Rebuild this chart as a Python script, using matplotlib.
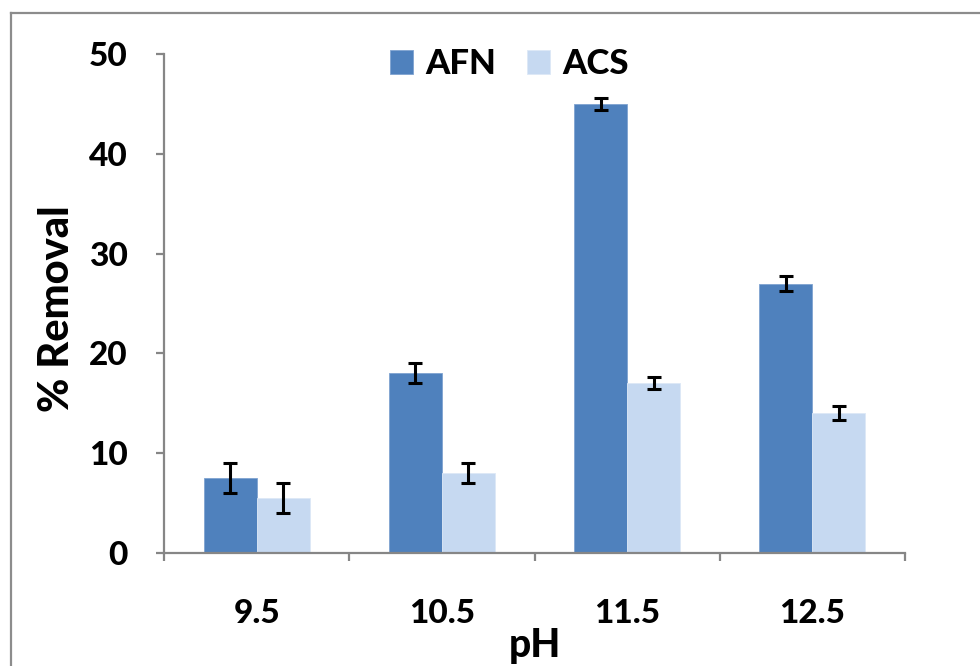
import numpy as np
import matplotlib
matplotlib.use("Agg")
import matplotlib.pyplot as plt
from matplotlib.lines import Line2D

# ================== DATA ==================
ph_labels = ["9.5", "10.5", "11.5", "12.5"]
afn = [7.5, 18, 45, 27]
afn_err = [1.5, 1.0, 0.6, 0.75]
acs = [5.5, 8, 17, 14]
acs_err = [1.5, 1.0, 0.6, 0.7]

AFN_COLOR = "#4F81BD"
ACS_COLOR = "#C6D9F1"
AXIS_GRAY = "#868686"
WEIGHT = "black"

plt.rcParams["font.family"] = ["Lato", "DejaVu Sans"]
plt.rcParams["font.weight"] = WEIGHT

fig = plt.figure(figsize=(9.8, 6.66), dpi=100)
ax = fig.add_axes([164 / 980, 113 / 666, 741 / 980, 499 / 666])

x = np.arange(len(ph_labels))
w = 0.286
ekw = dict(ecolor="black", elinewidth=2.2, capsize=5, capthick=2.2)
ax.bar(x - w / 2, afn, w, color=AFN_COLOR, edgecolor="#7fa3d0", linewidth=0.6,
       yerr=afn_err, error_kw=ekw, label="AFN")
ax.bar(x + w / 2, acs, w, color=ACS_COLOR, edgecolor="#dde8f6", linewidth=0.6,
       yerr=acs_err, error_kw=ekw, label="ACS")

ax.set_xlim(-0.5, len(ph_labels) - 0.5)
ax.set_ylim(0, 50)
ax.set_yticks(range(0, 51, 10))
ax.set_xticks(x)
ax.set_xticklabels(ph_labels)
ax.set_xticks(np.arange(-0.5, len(ph_labels), 1), minor=True)

for s in ["top", "right"]:
    ax.spines[s].set_visible(False)
for s in ["left", "bottom"]:
    ax.spines[s].set_color(AXIS_GRAY)
    ax.spines[s].set_linewidth(1.6)

ax.tick_params(axis="y", which="major", length=6, width=1.6, color=AXIS_GRAY,
               labelsize=24, pad=20)
ax.tick_params(axis="x", which="major", length=0, labelsize=24, pad=33)
ax.tick_params(axis="x", which="minor", length=6, width=1.6, color=AXIS_GRAY)
for t in ax.get_xticklabels() + ax.get_yticklabels():
    t.set_fontweight(WEIGHT)

fig.text(57 / 980, 1 - 309 / 666, "% Removal", rotation=90, ha="center",
         va="center", fontsize=30, fontweight=WEIGHT)
fig.text(535 / 980, 1 - 645 / 666, "pH", ha="center", va="center",
         fontsize=28, fontweight=WEIGHT)

leg = fig.legend(loc="center left", bbox_to_anchor=(359 / 980, 1 - 64 / 666), ncol=2,
                 frameon=False, fontsize=25, handlelength=0.66, handleheight=0.66,
                 handletextpad=0.35, columnspacing=0.9)
for t in leg.get_texts():
    t.set_fontweight(WEIGHT)

# outer chart frame (partly cut off on right/bottom)
fig.add_artist(Line2D([11 / 980, 1.0], [1 - 13 / 666] * 2, color="#8c8c8c", lw=1.6))
fig.add_artist(Line2D([11 / 980] * 2, [0.0, 1 - 13 / 666], color="#8c8c8c", lw=1.6))

fig.savefig("out.png", dpi=100)
